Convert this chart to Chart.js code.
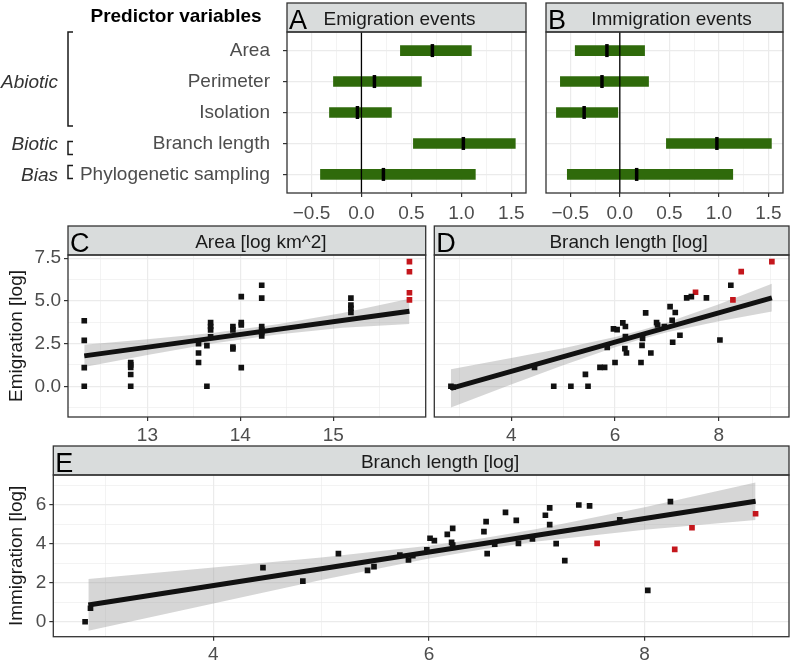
<!DOCTYPE html>
<html>
<head>
<meta charset="utf-8">
<script src="https://cdn.jsdelivr.net/npm/chart.js@4.4.1/dist/chart.umd.min.js"></script>
<style>
  html, body { margin: 0; padding: 0; background: #fff; }
  #wrap { position: relative; width: 793px; height: 663px; overflow: hidden; }
  canvas { position: absolute; }
</style>
</head>
<body>
<div id="wrap">
  <canvas id="cA" width="536" height="220" style="left:0;top:0"></canvas>
  <canvas id="cB" width="257" height="220" style="left:536px;top:0"></canvas>
  <canvas id="cC" width="430" height="222" style="left:0;top:220px"></canvas>
  <canvas id="cD" width="363" height="222" style="left:430px;top:220px"></canvas>
  <canvas id="cE" width="793" height="221" style="left:0;top:442px"></canvas>
</div>
<script>
// ---- panels A / B : coefficient intervals ----
const predictors = ['Area', 'Perimeter', 'Isolation', 'Branch length', 'Phylogenetic sampling'];
const groupNames = ['Abiotic', 'Biotic', 'Bias'];
const groupRow = [2, 4, 5]; // row the group label sits next to

const emigLow  = [0.39, -0.28, -0.32, 0.52, -0.41];
const emigHigh = [1.10, 0.60, 0.30, 1.54, 1.14];
const emigEst  = [0.71, 0.13, -0.04, 1.02, 0.22];

const immigLow  = [-0.45, -0.60, -0.64, 0.47, -0.53];
const immigHigh = [0.25, 0.29, -0.02, 1.53, 1.14];
const immigEst  = [-0.13, -0.18, -0.36, 0.98, 0.17];

const coefMajor = [-0.5, 0, 0.5, 1, 1.5];
const coefMinor = [-0.25, 0.25, 0.75, 1.25];

// ---- panel C : emigration vs area ----
const areaX = [12.32, 12.32, 12.32, 12.32, 12.82, 12.82, 12.82, 12.82, 12.82,
  13.55, 13.55, 13.55, 13.64, 13.64, 13.68, 13.68, 13.68, 13.68,
  13.92, 13.92, 13.92, 13.92, 14.01, 14.01, 14.01, 14.01,
  14.23, 14.23, 14.23, 14.23, 14.23, 14.23, 15.19, 15.19, 15.19, 15.19];
const areaEmig = [3.84, 2.69, 1.09, 0, 1.39, 1.25, 1.10, 0.69, 0,
  2.50, 1.95, 1.39, 2.38, 0, 3.73, 3.50, 3.30, 2.90,
  3.50, 3.30, 2.30, 2.19, 5.25, 3.73, 3.59, 1.09,
  5.92, 5.16, 3.50, 3.30, 3.16, 2.95, 5.16, 4.76, 4.57, 4.33];
const areaXRed = [15.82, 15.82, 15.82, 15.82];
const areaEmigRed = [7.30, 6.71, 5.48, 5.06];
const areaFitX = [12.32, 15.82];
const areaFitY = [1.78, 4.39];
const areaBandX = [12.32, 13.0, 13.7, 14.4, 15.1, 15.82];
const areaBandLow = [1.13, 1.83, 2.50, 3.03, 3.43, 3.65];
const areaBandHigh = [2.43, 2.75, 3.12, 3.63, 4.29, 5.13];

// ---- panel D : emigration vs branch length ----
const branchX = [2.84, 2.88, 4.45, 4.82, 5.15, 5.48, 5.43, 5.71, 5.80, 5.85,
  5.97, 6.04, 6.00, 6.15, 6.20, 6.20, 6.19, 6.22, 6.50, 6.52,
  6.53, 6.59, 6.69, 6.80, 6.82, 6.95, 7.06, 7.10, 7.11, 7.16,
  7.25, 7.38, 7.47, 7.76, 8.02, 8.23];
const branchEmig = [0, -0.05, 1.11, 0, 0, 0, 0.70, 1.11, 1.11, 2.27,
  3.36, 3.32, 1.39, 3.71, 3.50, 2.91, 2.21, 1.95, 1.39, 2.40,
  2.81, 4.30, 1.95, 3.73, 3.59, 3.50, 4.67, 3.87, 2.58, 4.32,
  2.99, 5.18, 5.25, 5.18, 2.71, 5.92];
const branchXRed = [7.55, 8.27, 8.43, 9.02];
const branchEmigRed = [5.51, 5.06, 6.72, 7.30];
const branchFitX = [2.84, 9.02];
const branchFitY = [-0.12, 5.18];
const branchBandX = [2.84, 4, 5, 6, 6.5, 7, 8, 9.02];
const branchBandLow = [-1.24, 0.10, 1.23, 2.29, 2.76, 3.17, 3.81, 4.38];
const branchBandHigh = [1.00, 1.65, 2.23, 2.89, 3.28, 3.73, 4.81, 6.00];

// ---- panel E : immigration vs branch length ----
const immX = [2.81, 2.86, 4.46, 4.83, 5.16, 5.43, 5.49, 5.73, 5.81, 5.85,
  5.98, 6.01, 6.05, 6.17, 6.22, 6.21, 6.22, 6.51, 6.53, 6.54,
  6.61, 6.71, 6.81, 6.83, 6.96, 7.08, 7.12, 7.12, 7.18, 7.26,
  7.39, 7.49, 7.77, 8.03, 8.24];
const immY = [0, 0.69, 2.78, 2.09, 3.50, 2.64, 2.83, 3.43, 3.17, 3.39,
  3.69, 4.29, 4.17, 4.49, 4.80, 4.08, 3.94, 4.63, 5.14, 3.50,
  3.99, 5.62, 5.21, 4.03, 4.25, 5.47, 5.85, 4.99, 4.01, 3.14,
  6.00, 5.95, 5.23, 1.61, 6.17];
const immXRed = [7.56, 8.28, 8.44, 9.03];
const immYRed = [4.03, 3.72, 4.83, 5.55];
const immFitX = [2.84, 9.03];
const immFitY = [0.86, 6.19];
const immBandX = [2.84, 4, 5, 6, 6.5, 7, 8, 9.03];
const immBandLow = [-0.47, 0.94, 2.14, 3.25, 3.73, 4.12, 4.72, 5.23];
const immBandHigh = [2.19, 2.78, 3.30, 3.91, 4.29, 4.76, 5.88, 7.15];

// ---- helpers ----
Chart.defaults.font.family = '"Liberation Sans", Arial, Helvetica, sans-serif';
const FONT = '"Liberation Sans", Arial, Helvetica, sans-serif';
const rows = predictors.map((_, i) => i + 1);
const pts = (xs, ys) => xs.map((x, i) => ({ x: x, y: ys[i] }));
const fixTicks = vals => s => { s.ticks = vals.map(v => ({ value: v })); };
const signed = v => (v < 0 ? '\u2212' : '') + Math.abs(v).toFixed(1);

function gridOpts(majors) {
  return {
    color: '#ebebeb',
    lineWidth: c => (c.tick && majors.includes(c.tick.value)) ? 1.2 : 0.6,
    tickColor: c => (c.tick && majors.includes(c.tick.value)) ? '#333333' : 'rgba(0,0,0,0)',
    tickLength: 4,
    tickWidth: 1.2
  };
}

// strip header + panel border, like ggplot facets
const panelDeco = {
  id: 'panelDeco',
  afterDraw(chart, args, opts) {
    const { ctx, chartArea: a } = chart;
    ctx.save();
    ctx.fillStyle = '#d9dcdc';
    ctx.fillRect(a.left, a.top - 29, a.right - a.left, 29);
    ctx.strokeStyle = '#333333';
    ctx.lineWidth = 1.3;
    ctx.strokeRect(a.left, a.top - 29, a.right - a.left, 29);
    ctx.strokeRect(a.left, a.top, a.right - a.left, a.bottom - a.top);
    ctx.fillStyle = '#1a1a1a';
    ctx.font = '19px ' + FONT;
    ctx.textAlign = 'center';
    ctx.textBaseline = 'alphabetic';
    ctx.fillText(opts.title, (a.left + a.right) / 2 + (opts.dx || 0), a.top - 7.5);
    ctx.fillStyle = '#000';
    ctx.font = '27px ' + FONT;
    ctx.textAlign = 'left';
    ctx.fillText(opts.letter, a.left + 2, a.top - 3);
    ctx.restore();
  }
};

// left side of panel A: heading, group names and brackets
const predictorNotes = {
  id: 'predictorNotes',
  afterDraw(chart) {
    const { ctx } = chart;
    const y = chart.scales.y;
    ctx.save();
    ctx.fillStyle = '#000';
    ctx.font = 'bold 19px ' + FONT;
    ctx.textAlign = 'center';
    ctx.fillText('Predictor variables', 176, 22);
    ctx.font = 'italic 19px ' + FONT;
    ctx.fillStyle = '#333';
    ctx.textAlign = 'right';
    ctx.textBaseline = 'middle';
    groupNames.forEach((g, i) => ctx.fillText(g, 58, y.getPixelForValue(groupRow[i]) + 1));
    const spans = [[32, 126], [141.5, 154.5], [165.5, 178.5]];
    ctx.strokeStyle = '#1a1a1a';
    ctx.lineWidth = 1.5;
    spans.forEach(([t, b]) => {
      ctx.beginPath();
      ctx.moveTo(73, t); ctx.lineTo(68, t); ctx.lineTo(68, b); ctx.lineTo(73, b);
      ctx.stroke();
    });
    ctx.restore();
  }
};

function coefChart(id, low, high, est, showLabels, pad, yWidth, title, letter, dx) {
  return new Chart(document.getElementById(id), {
    type: 'bar',
    data: {
      datasets: [
        { type: 'scatter', data: pts(est, rows), pointStyle: 'line', rotation: 90,
          pointRadius: 6.5, borderWidth: 3.5, borderColor: '#000', order: 0 },
        { type: 'line', data: [{ x: 0, y: 0.4 }, { x: 0, y: 5.6 }], borderColor: '#000',
          borderWidth: 1.3, pointRadius: 0, order: 1 },
        { type: 'bar', data: rows.map((r, i) => ({ x: [low[i], high[i]], y: r })),
          backgroundColor: '#2f6a0b', barThickness: 10, order: 2 }
      ]
    },
    options: {
      indexAxis: 'y', responsive: false, animation: false, events: [],
      layout: { padding: { top: 32, right: pad, left: 0, bottom: 0 } },
      plugins: { legend: { display: false }, tooltip: { enabled: false },
        panelDeco: { title: title, letter: letter, dx: dx } },
      scales: {
        x: {
          type: 'linear', min: -0.745, max: 1.647,
          afterBuildTicks: fixTicks([...coefMinor, ...coefMajor].sort((a, b) => a - b)),
          afterFit: s => { s.height = 27; },
          grid: gridOpts(coefMajor), border: { display: false },
          ticks: { autoSkip: false, maxRotation: 0, padding: 5, color: '#4d4d4d', font: { size: 19 },
            callback: v => coefMajor.includes(v) ? signed(v) : '' }
        },
        y: {
          type: 'linear', reverse: true, min: 0.4, max: 5.6, offset: false,
          afterBuildTicks: fixTicks(rows),
          afterFit: s => { s.width = yWidth; },
          grid: { offset: false, color: '#ebebeb', lineWidth: 1.2, tickColor: '#333333',
            tickLength: 4, tickWidth: 1.2, drawTicks: showLabels },
          border: { display: false },
          ticks: { display: showLabels, padding: 13, color: '#4d4d4d', font: { size: 19 },
            callback: v => predictors[v - 1] }
        }
      }
    },
    plugins: showLabels ? [panelDeco, predictorNotes] : [panelDeco]
  });
}

coefChart('cA', emigLow, emigHigh, emigEst, true, 4, 287, 'Emigration events', 'A', -7);
coefChart('cB', immigLow, immigHigh, immigEst, false, 7, 4, 'Immigration events', 'B', 7);

function scatterChart(id, cfg) {
  return new Chart(document.getElementById(id), {
    type: 'scatter',
    data: {
      datasets: [
        { data: pts(cfg.xs, cfg.ys), pointStyle: 'rect', pointRadius: 4, backgroundColor: '#111',
          borderWidth: 0, order: 0 },
        { data: pts(cfg.xr, cfg.yr), pointStyle: 'rect', pointRadius: 4, backgroundColor: '#c4161c',
          borderWidth: 0, order: 0 },
        { type: 'line', data: pts(cfg.fitX, cfg.fitY), borderColor: '#111', borderWidth: 5,
          pointRadius: 0, borderCapStyle: 'butt', order: 1 },
        { type: 'line', data: pts(cfg.bandX, cfg.bandHigh), borderColor: 'rgba(0,0,0,0)',
          backgroundColor: 'rgba(153,153,153,0.4)', fill: '+1', pointRadius: 0, order: 2 },
        { type: 'line', data: pts(cfg.bandX, cfg.bandLow), borderColor: 'rgba(0,0,0,0)',
          fill: false, pointRadius: 0, order: 3 }
      ]
    },
    options: {
      responsive: false, animation: false, events: [],
      layout: { padding: { top: cfg.padTop, right: cfg.padRight, left: 0, bottom: 0 } },
      plugins: { legend: { display: false }, tooltip: { enabled: false },
        panelDeco: { title: cfg.title, letter: cfg.letter, dx: cfg.dx } },
      scales: {
        x: {
          type: 'linear', min: cfg.xMin, max: cfg.xMax,
          afterBuildTicks: fixTicks([...cfg.xMinor, ...cfg.xMajor].sort((a, b) => a - b)),
          afterFit: s => { s.height = cfg.xHeight; },
          grid: gridOpts(cfg.xMajor), border: { display: false },
          ticks: { autoSkip: false, maxRotation: 0, padding: 3, color: '#4d4d4d', font: { size: 19 },
            callback: v => cfg.xMajor.includes(v) ? String(v) : '' }
        },
        y: {
          type: 'linear', min: cfg.yMin, max: cfg.yMax,
          afterBuildTicks: fixTicks([...cfg.yMinor, ...cfg.yMajor].sort((a, b) => a - b)),
          afterFit: s => { s.width = cfg.yWidth; },
          grid: Object.assign(gridOpts(cfg.yMajor), { drawTicks: !!cfg.yTitle }),
          border: { display: false },
          title: { display: !!cfg.yTitle, text: cfg.yTitle, color: '#1a1a1a', font: { size: 19 },
            padding: { top: 5, bottom: 0 } },
          ticks: { display: !!cfg.yTitle, autoSkip: false, padding: 3, color: '#4d4d4d', font: { size: 19 },
            callback: v => cfg.yMajor.includes(v) ? cfg.yFmt(v) : '' }
        }
      }
    },
    plugins: [panelDeco]
  });
}

const emigYMajor = [0, 2.5, 5, 7.5];
const emigYMinor = [-1.25, 1.25, 3.75, 6.25];
const branchXMajor = [4, 6, 8];
const branchXMinor = [3, 5, 7, 9];

scatterChart('cC', {
  xs: areaX, ys: areaEmig, xr: areaXRed, yr: areaEmigRed,
  fitX: areaFitX, fitY: areaFitY, bandX: areaBandX, bandLow: areaBandLow, bandHigh: areaBandHigh,
  xMin: 12.145, xMax: 15.995, xMajor: [13, 14, 15], xMinor: [12.5, 13.5, 14.5, 15.5],
  yMin: -1.8, yMax: 7.69, yMajor: emigYMajor, yMinor: emigYMinor, yFmt: v => v.toFixed(1),
  yTitle: 'Emigration [log]', padTop: 35, padRight: 4.3, yWidth: 68, xHeight: 25,
  title: 'Area [log km^2]', letter: 'C', dx: 14
});

scatterChart('cD', {
  xs: branchX, ys: branchEmig, xr: branchXRed, yr: branchEmigRed,
  fitX: branchFitX, fitY: branchFitY, bandX: branchBandX, bandLow: branchBandLow, bandHigh: branchBandHigh,
  xMin: 2.52, xMax: 9.35, xMajor: branchXMajor, xMinor: branchXMinor,
  yMin: -1.8, yMax: 7.69, yMajor: emigYMajor, yMinor: emigYMinor, yFmt: v => v.toFixed(1),
  yTitle: '', padTop: 35, padRight: 1.3, yWidth: 4.3, xHeight: 25,
  title: 'Branch length [log]', letter: 'D', dx: 17
});

scatterChart('cE', {
  xs: immX, ys: immY, xr: immXRed, yr: immYRed,
  fitX: immFitX, fitY: immFitY, bandX: immBandX, bandLow: immBandLow, bandHigh: immBandHigh,
  xMin: 2.515, xMax: 9.34, xMajor: branchXMajor, xMinor: branchXMinor,
  yMin: -0.77, yMax: 7.54, yMajor: [0, 2, 4, 6], yMinor: [1, 3, 5, 7], yFmt: v => String(v),
  yTitle: 'Immigration [log]', padTop: 33, padRight: 1.3, yWidth: 53.3, xHeight: 26.3,
  title: 'Branch length [log]', letter: 'E', dx: 19
});
</script>
</body>
</html>
